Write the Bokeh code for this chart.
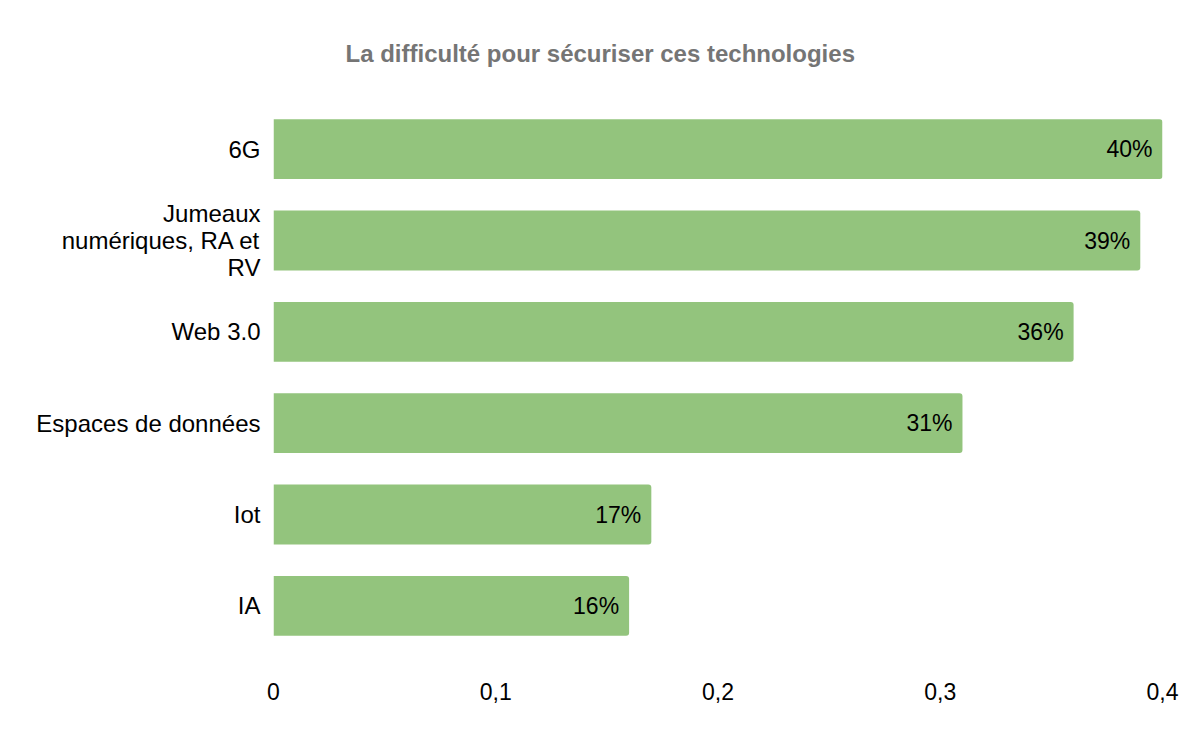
from bokeh.plotting import figure
from bokeh.models import ColumnDataSource, FactorRange, Range1d, FixedTicker, LabelSet, Title
from bokeh.core.properties import value
from bokeh.embed import file_html
from bokeh.resources import INLINE

categories = ["6G", "Jumeaux\nnumériques, RA et\nRV", "Web 3.0", "Espaces de données", "Iot", "IA"]
values = [0.40, 0.39, 0.36, 0.31, 0.17, 0.16]
value_labels = ["40%", "39%", "36%", "31%", "17%", "16%"]
x_ticks = [0, 0.1, 0.2, 0.3, 0.4]
x_tick_labels = ["0", "0,1", "0,2", "0,3", "0,4"]

FONT = "Liberation Sans"
BAR_COLOR = "#93c47d"

source = ColumnDataSource(dict(cat=categories, val=values, lab=value_labels))

p = figure(
    width=1184, height=726,
    y_range=FactorRange(*reversed(categories), range_padding=0),
    x_range=Range1d(0, 0.4),
    output_backend="svg", toolbar_location=None,
    min_border_left=273, min_border_right=22, min_border_top=102, min_border_bottom=75,
)
p.title = Title(
    text="La difficulté pour sécuriser ces technologies",
    align="left", offset=72, standoff=74,
    text_font=FONT, text_font_size="24px", text_font_style="bold", text_color="#757575",
)

p.hbar(y="cat", right="val", left=0, height=0.655, source=source,
       fill_color=BAR_COLOR, line_color=None, border_radius=(0, 3, 3, 0))

labels = LabelSet(x="val", y="cat", text="lab", source=source,
                  text_align="right", text_baseline="middle", x_offset=-10,
                  text_font=value(FONT), text_font_size=value("23px"), text_color="#000000")
p.add_layout(labels)

p.xaxis.ticker = FixedTicker(ticks=x_ticks)
p.xaxis.major_label_overrides = {t: l for t, l in zip(x_ticks, x_tick_labels)}
for ax in (p.xaxis, p.yaxis):
    ax.axis_line_color = None
    ax.major_tick_line_color = None
    ax.minor_tick_line_color = None
    ax.major_label_text_font = FONT
    ax.major_label_text_color = "#000000"
p.xaxis.major_label_text_font_size = "23px"
p.yaxis.major_label_text_font_size = "24px"
p.xaxis.major_label_standoff = 25
p.yaxis.major_label_standoff = 7
p.yaxis.major_label_text_line_height = 1.0

p.xgrid.grid_line_color = None
p.ygrid.grid_line_color = None
p.outline_line_color = None
p.background_fill_color = "white"
p.border_fill_color = "white"

open("out.html", "w").write(file_html(p, INLINE))
